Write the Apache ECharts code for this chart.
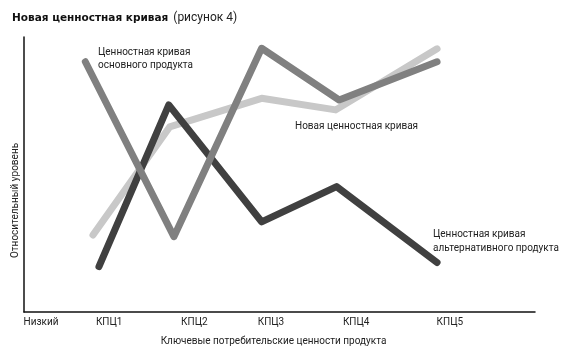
<!DOCTYPE html>
<html>
<head>
<meta charset="utf-8">
<script src="https://cdn.jsdelivr.net/npm/echarts@6/dist/echarts.min.js"></script>
<style>
html,body{margin:0;padding:0;background:#fff;}
#chart{width:574px;height:358px;}
</style>
</head>
<body>
<div id="chart"></div>
<script>
// Tick labels on the x axis and their positions (axis units)
var tickLabels = ['Низкий', 'КПЦ1', 'КПЦ2', 'КПЦ3', 'КПЦ4', 'КПЦ5'];
var tickValues = [0.2, 1, 2, 2.9, 3.9, 5];

// Series: x positions (axis units) and relative levels (0..10)
var coreX = [0.72, 1.76, 2.79, 3.70, 4.85];
var coreY = [9.10, 2.74, 9.59, 7.71, 9.10];

var newX = [0.81, 1.71, 2.79, 3.66, 4.85];
var newY = [2.80, 6.73, 7.77, 7.35, 9.57];

var altX = [0.88, 1.70, 2.79, 3.67, 4.85];
var altY = [1.65, 7.53, 3.28, 4.56, 1.80];

function pairs(xs, ys) { return xs.map(function (x, i) { return [x, ys[i]]; }); }

var FONT = 'Roboto';
var chart = echarts.init(document.getElementById('chart'));

function lineSeries(name, xs, ys, color, z) {
  return {
    name: name, type: 'line', data: pairs(xs, ys), z: z,
    symbol: 'none', smooth: false,
    lineStyle: { color: color, width: 7, cap: 'round', join: 'round' },
    emphasis: { disabled: true }, silent: true
  };
}

chart.setOption({
  animation: false,
  title: {
    left: 12, top: 9, padding: 0,
    text: '{b|Новая ценностная кривая} {r|(рисунок 4)}',
    textStyle: {
      rich: {
        b: { fontFamily: 'DejaVu Sans', fontWeight: 'bold', fontSize: 10.5, color: '#111' },
        r: { fontFamily: FONT, fontWeight: 'normal', fontSize: 12, color: '#222' }
      }
    }
  },
  grid: { left: 24, right: 39, top: 37, bottom: 46, containLabel: false },
  xAxis: {
    type: 'value', min: 0, max: 6, interval: 1,
    name: 'Ключевые потребительские ценности продукта',
    nameLocation: 'middle', nameGap: 24,
    nameTextStyle: { fontFamily: FONT, fontSize: 10, color: '#222', padding: [0, 12, 0, 0] },
    axisLine: { show: true, onZero: false, lineStyle: { color: '#111', width: 1.5 } },
    axisTick: { show: false },
    splitLine: { show: false },
    axisLabel: {
      customValues: tickValues,
      margin: 5,
      fontFamily: FONT, fontSize: 10, color: '#222',
      formatter: function (v) { return tickLabels[Math.round(v)] || ''; }
    }
  },
  yAxis: {
    type: 'value', min: 0, max: 10,
    name: 'Относительный уровень',
    nameLocation: 'middle', nameGap: 4, nameRotate: 90,
    nameTextStyle: { fontFamily: FONT, fontSize: 10, color: '#222', padding: [0, 52, 0, 0] },
    axisLine: { show: true, lineStyle: { color: '#111', width: 1.5 } },
    axisTick: { show: false },
    axisLabel: { show: false },
    splitLine: { show: false }
  },
  graphic: [
    { type: 'text', left: 98, top: 46, style: { text: 'Ценностная кривая\nосновного продукта', fontFamily: FONT, fontSize: 10, lineHeight: 13, fill: '#222' } },
    { type: 'text', left: 295, top: 120, style: { text: 'Новая ценностная кривая', fontFamily: FONT, fontSize: 10, lineHeight: 13, fill: '#222' } },
    { type: 'text', left: 433, top: 227, style: { text: 'Ценностная кривая\nальтернативного продукта', fontFamily: FONT, fontSize: 10, lineHeight: 14, fill: '#222' } }
  ],
  series: [
    lineSeries('Новая ценностная кривая', newX, newY, '#c8c8c8', 2),
    lineSeries('Ценностная кривая альтернативного продукта', altX, altY, '#404040', 3),
    lineSeries('Ценностная кривая основного продукта', coreX, coreY, '#808080', 4)
  ]
});
</script>
</body>
</html>
